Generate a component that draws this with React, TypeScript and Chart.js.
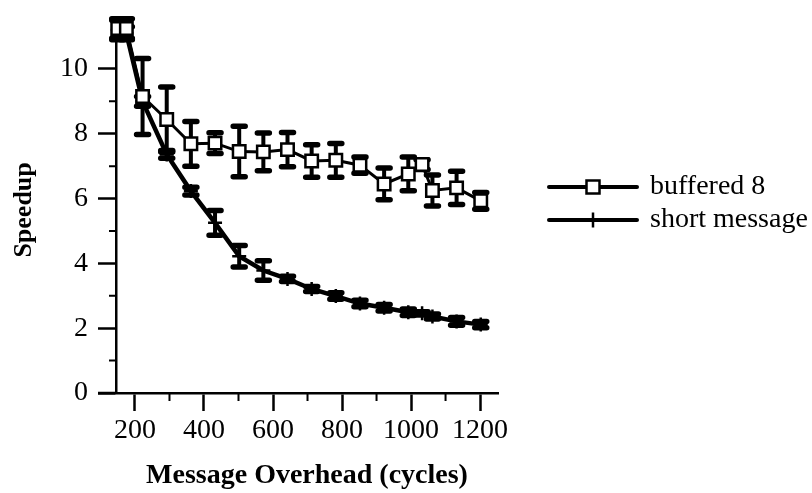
import React, { useEffect, useRef } from 'react';
import { Chart, registerables } from 'chart.js';

Chart.register(...registerables);

// ---- data ----
const overhead = [150, 175, 222, 292, 362, 432, 502, 572, 642, 712, 782, 852, 922, 992, 1032, 1062, 1132, 1202];
const buffered8 = [11.25, 11.25, 9.15, 8.44, 7.69, 7.71, 7.45, 7.44, 7.51, 7.16, 7.18, 7.03, 6.45, 6.76, 7.05, 6.25, 6.33, 5.93];
const buffered8Err = [0.3, 0.3, 1.17, 1.0, 0.69, 0.32, 0.78, 0.58, 0.53, 0.5, 0.52, 0.25, 0.49, 0.52, 0.15, 0.48, 0.51, 0.26];
const shortMessage = [11.2, 11.1, 9.0, 7.36, 6.23, 5.25, 4.22, 3.78, 3.52, 3.21, 2.99, 2.76, 2.63, 2.49, 2.46, 2.36, 2.21, 2.11];
const shortMessageErr = [0.3, 0.2, 0.15, 0.12, 0.12, 0.38, 0.33, 0.3, 0.08, 0.08, 0.1, 0.1, 0.1, 0.1, 0.05, 0.08, 0.12, 0.1];

const seriesNames = ['buffered 8', 'short message'];
const xMajorTicks = [200, 400, 600, 800, 1000, 1200];
const xMinorTicks = [300, 500, 700, 900, 1100];
const yMajorTicks = [0, 2, 4, 6, 8, 10];
const yMinorTicks = [1, 3, 5, 7, 9];
const xTitle = 'Message Overhead (cycles)';
const yTitle = 'Speedup';

const FONT = '"Liberation Serif", "Times New Roman", Times, serif';
const errorSets = [buffered8Err, shortMessageErr];

const errorBarPlugin = {
  id: 'errorBars',
  beforeDatasetsDraw(chart: any) {
    const { ctx } = chart;
    const x = chart.scales.x;
    const y = chart.scales.y;
    ctx.save();
    ctx.strokeStyle = '#000';
    ctx.lineCap = 'round';
    chart.data.datasets.forEach((ds: any, i: number) => {
      const errs = errorSets[i];
      ds.data.forEach((pt: any, j: number) => {
        const e = errs[j];
        const px = x.getPixelForValue(pt.x);
        const top = y.getPixelForValue(pt.y + e);
        const bot = y.getPixelForValue(pt.y - e);
        ctx.lineWidth = 4;
        ctx.beginPath();
        ctx.moveTo(px, top);
        ctx.lineTo(px, bot);
        ctx.stroke();
        ctx.lineWidth = 5.5;
        ctx.beginPath();
        ctx.moveTo(px - 6, top);
        ctx.lineTo(px + 6, top);
        ctx.moveTo(px - 6, bot);
        ctx.lineTo(px + 6, bot);
        ctx.stroke();
      });
    });
    ctx.restore();
  },
};

const axisExtrasPlugin = {
  id: 'axisExtras',
  beforeDatasetsDraw(chart: any) {
    const { ctx, chartArea } = chart;
    const x = chart.scales.x;
    const y = chart.scales.y;
    ctx.save();
    ctx.strokeStyle = '#000';
    ctx.lineWidth = 2;
    ctx.beginPath();
    xMinorTicks.forEach((v) => {
      const px = x.getPixelForValue(v);
      ctx.moveTo(px, chartArea.bottom);
      ctx.lineTo(px, chartArea.bottom + 8);
    });
    yMinorTicks.forEach((v) => {
      const py = y.getPixelForValue(v);
      ctx.moveTo(chartArea.left, py);
      ctx.lineTo(chartArea.left - 7, py);
    });
    ctx.stroke();
    // x-axis line extends left under the y tick marks
    ctx.lineWidth = 2.5;
    ctx.beginPath();
    ctx.moveTo(chartArea.left - 18, chartArea.bottom);
    ctx.lineTo(chartArea.left, chartArea.bottom);
    ctx.stroke();
    ctx.restore();
  },
};

const legendPlugin = {
  id: 'customLegend',
  afterDraw(chart: any) {
    const { ctx } = chart;
    const x0 = 549;
    const x1 = 637;
    const rows = [187, 220];
    ctx.save();
    chart.data.datasets.forEach((ds: any, i: number) => {
      const yy = rows[i];
      const cx = (x0 + x1) / 2;
      ctx.strokeStyle = '#000';
      ctx.lineWidth = 4;
      ctx.lineCap = 'round';
      ctx.beginPath();
      ctx.moveTo(x0, yy);
      ctx.lineTo(x1, yy);
      ctx.stroke();
      ctx.lineCap = 'butt';
      if (i === 0) {
        ctx.fillStyle = '#fff';
        ctx.lineWidth = 2.5;
        ctx.fillRect(cx - 6.5, yy - 6.5, 13, 13);
        ctx.strokeRect(cx - 6.5, yy - 6.5, 13, 13);
      } else {
        ctx.lineWidth = 2.5;
        ctx.beginPath();
        ctx.moveTo(cx, yy - 7.5);
        ctx.lineTo(cx, yy + 7.5);
        ctx.stroke();
      }
      ctx.fillStyle = '#000';
      ctx.font = `28px ${FONT}`;
      ctx.textAlign = 'left';
      ctx.textBaseline = 'middle';
      ctx.fillText(ds.label, 650, yy);
    });
    ctx.restore();
  },
};

export default function App() {
  const canvasRef = useRef<HTMLCanvasElement | null>(null);

  useEffect(() => {
    document.body.style.margin = '0';
    const canvas = canvasRef.current;
    if (!canvas) return;
    const chart = new Chart(canvas, {
      type: 'scatter',
      data: {
        datasets: [
          {
            label: seriesNames[0],
            data: overhead.map((v, i) => ({ x: v, y: buffered8[i] })),
            showLine: true,
            borderColor: '#000',
            borderWidth: 3,
            pointStyle: 'rect',
            pointRadius: 8.8,
            pointHoverRadius: 8.8,
            pointBackgroundColor: '#fff',
            pointBorderColor: '#000',
            pointBorderWidth: 2.5,
            clip: false,
          } as any,
          {
            label: seriesNames[1],
            data: overhead.map((v, i) => ({ x: v, y: shortMessage[i] })),
            showLine: true,
            borderColor: '#000',
            borderWidth: 4.5,
            pointStyle: 'cross',
            pointRadius: 7,
            pointHoverRadius: 7,
            pointBackgroundColor: '#000',
            pointBorderColor: '#000',
            pointBorderWidth: 2.5,
            clip: false,
          } as any,
        ],
      },
      options: {
        animation: false,
        responsive: true,
        maintainAspectRatio: false,
        layout: { padding: { top: 18, right: 314, bottom: 0, left: 0 } },
        plugins: {
          legend: { display: false },
          tooltip: { enabled: false },
        },
        scales: {
          x: {
            type: 'linear',
            position: 'bottom',
            min: 145,
            max: 1252,
            afterBuildTicks: (s: any) => {
              s.ticks = xMajorTicks.map((v) => ({ value: v }));
            },
            afterFit: (s: any) => {
              s.height = 100;
            },
            grid: {
              display: true,
              drawOnChartArea: false,
              drawTicks: true,
              tickLength: 18,
              tickWidth: 2.5,
              tickColor: '#000',
            },
            border: { display: true, color: '#000', width: 2.5 },
            ticks: {
              color: '#000',
              font: { family: FONT, size: 28 },
              padding: 3,
              maxRotation: 0,
              autoSkip: false,
              callback: (v: any) => String(v),
            },
            title: {
              display: true,
              text: xTitle,
              color: '#000',
              font: { family: FONT, size: 28, weight: 'bold' },
              padding: { top: 0, bottom: 0 },
            },
          },
          y: {
            type: 'linear',
            position: 'left',
            min: 0,
            max: 11.3,
            afterBuildTicks: (s: any) => {
              s.ticks = yMajorTicks.map((v) => ({ value: v }));
            },
            afterFit: (s: any) => {
              s.width = 116;
            },
            grid: {
              display: true,
              drawOnChartArea: false,
              drawTicks: true,
              tickLength: 18,
              tickWidth: 2.5,
              tickColor: '#000',
            },
            border: { display: true, color: '#000', width: 2.5 },
            ticks: {
              color: '#000',
              font: { family: FONT, size: 28 },
              padding: 10,
              callback: (v: any) => String(v),
            },
            title: {
              display: true,
              text: yTitle,
              color: '#000',
              font: { family: FONT, size: 26, weight: 'bold' },
              padding: { top: 9, bottom: 0 },
            },
          },
        },
      },
      plugins: [axisExtrasPlugin, errorBarPlugin, legendPlugin],
    } as any);
    return () => chart.destroy();
  }, []);

  return (
    <div style={{ width: 812, height: 493, position: 'relative' }}>
      <canvas ref={canvasRef} />
    </div>
  );
}
